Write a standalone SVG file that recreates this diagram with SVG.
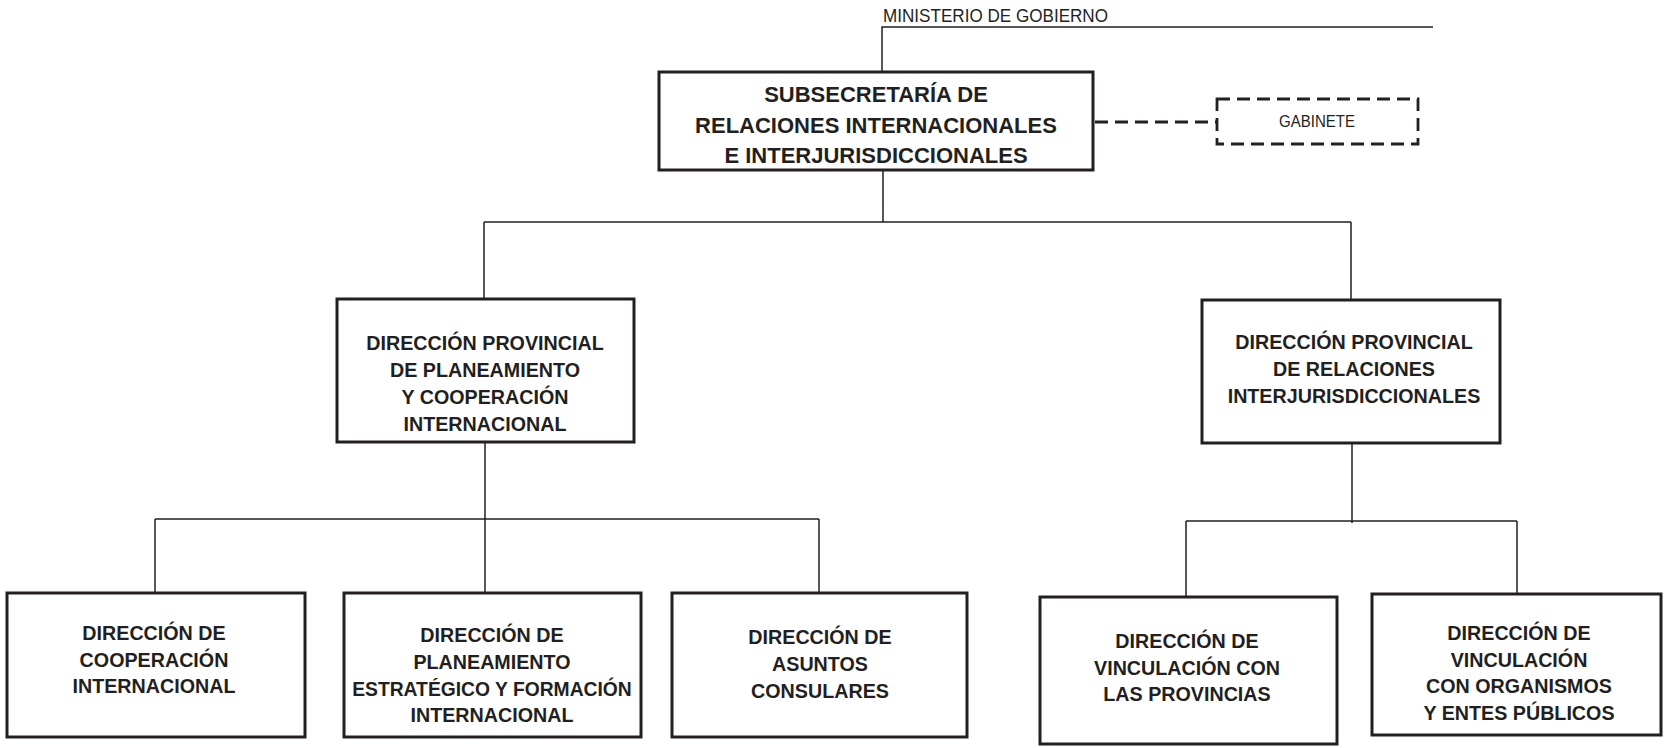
<svg xmlns="http://www.w3.org/2000/svg" width="1664" height="748" viewBox="0 0 1664 748">
<style>
.box{fill:#fff;stroke:#231f20;stroke-width:3}
.dbox{fill:#fff;stroke:#231f20;stroke-width:2.8;stroke-dasharray:13 7}
.ln{fill:none;stroke:#231f20;stroke-width:1.5}
.dl{fill:none;stroke:#231f20;stroke-width:2.8;stroke-dasharray:13 7}
.t{font-family:"Liberation Sans",Arial,sans-serif;font-weight:bold;font-size:19.7px;fill:#231f20;text-anchor:middle}
.tm{font-size:22px}
.tn{font-family:"Liberation Sans",Arial,sans-serif;fill:#231f20}
</style>
<rect width="1664" height="748" fill="#fff"/>
<g id="connectors">
<path class="ln" d="M882 72 V27 H1433"/>
<path class="dl" d="M1095 122 H1216"/>
<path class="ln" d="M883 170 V222 M484 222 H1351 M484 222 V299 M1351 222 V300"/>
<path class="ln" d="M485 443 V592 M155 519 H819 M155 519 V592 M819 519 V593"/>
<path class="ln" d="M1352 444 V523 M1186 521 H1517 M1186 521 V597 M1517 521 V594"/>
</g>
<g id="ministerio">
<text class="tn" x="883" y="22" font-size="18" textLength="225" lengthAdjust="spacingAndGlyphs">MINISTERIO DE GOBIERNO</text>
</g>
<g id="subsecretaria">
<rect class="box" x="659" y="72" width="434" height="98"/>
<text class="t tm"><tspan x="876" y="102">SUBSECRETARÍA DE</tspan><tspan x="876" y="132.5">RELACIONES INTERNACIONALES</tspan><tspan x="876" y="163">E INTERJURISDICCIONALES</tspan></text>
</g>
<g id="gabinete">
<rect class="dbox" x="1217" y="99" width="201" height="45"/>
<text class="tn" x="1279" y="127" font-size="16.5" textLength="76" lengthAdjust="spacingAndGlyphs">GABINETE</text>
</g>
<g id="dp-planeamiento">
<rect class="box" x="337" y="299" width="297" height="143"/>
<text class="t"><tspan x="485" y="350">DIRECCIÓN PROVINCIAL</tspan><tspan x="485" y="377">DE PLANEAMIENTO</tspan><tspan x="485" y="404">Y COOPERACIÓN</tspan><tspan x="485" y="431">INTERNACIONAL</tspan></text>
</g>
<g id="dp-relaciones">
<rect class="box" x="1202" y="300" width="298" height="143"/>
<text class="t"><tspan x="1354" y="349">DIRECCIÓN PROVINCIAL</tspan><tspan x="1354" y="376">DE RELACIONES</tspan><tspan x="1354" y="403">INTERJURISDICCIONALES</tspan></text>
</g>
<g id="d-cooperacion">
<rect class="box" x="7" y="593" width="298" height="144"/>
<text class="t"><tspan x="154" y="640">DIRECCIÓN DE</tspan><tspan x="154" y="666.5">COOPERACIÓN</tspan><tspan x="154" y="693">INTERNACIONAL</tspan></text>
</g>
<g id="d-planeamiento">
<rect class="box" x="344" y="593" width="297" height="144"/>
<text class="t"><tspan x="492" y="642">DIRECCIÓN DE</tspan><tspan x="492" y="669">PLANEAMIENTO</tspan><tspan x="492" y="696" font-size="19.3">ESTRATÉGICO Y FORMACIÓN</tspan><tspan x="492" y="722">INTERNACIONAL</tspan></text>
</g>
<g id="d-asuntos">
<rect class="box" x="672" y="593" width="295" height="144"/>
<text class="t"><tspan x="820" y="644">DIRECCIÓN DE</tspan><tspan x="820" y="671">ASUNTOS</tspan><tspan x="820" y="698">CONSULARES</tspan></text>
</g>
<g id="d-provincias">
<rect class="box" x="1040" y="597" width="297" height="147"/>
<text class="t"><tspan x="1187" y="648">DIRECCIÓN DE</tspan><tspan x="1187" y="675">VINCULACIÓN CON</tspan><tspan x="1187" y="701">LAS PROVINCIAS</tspan></text>
</g>
<g id="d-organismos">
<rect class="box" x="1372" y="594" width="289" height="141"/>
<text class="t"><tspan x="1519" y="640">DIRECCIÓN DE</tspan><tspan x="1519" y="667">VINCULACIÓN</tspan><tspan x="1519" y="693">CON ORGANISMOS</tspan><tspan x="1519" y="720">Y ENTES PÚBLICOS</tspan></text>
</g>
</svg>
